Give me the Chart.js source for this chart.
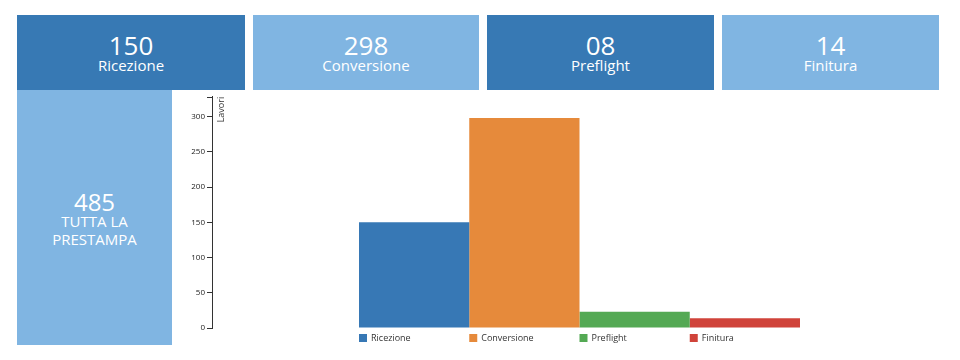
<!DOCTYPE html>
<html lang="it">
<head>
    <meta charset="UTF-8">
    <title>Prestampa</title>
    <script src="https://cdn.jsdelivr.net/npm/chart.js"></script>
    <style>
        body {
            margin: 0;
            width: 960px;
            height: 360px;
            background: #fff;
            font-family: 'Open Sans', sans-serif;
            position: relative;
            overflow: hidden;
        }
        .tile {
            position: absolute;
            color: white;
            text-align: center;
            box-sizing: border-box;
        }
        .tile.dark { background: #3779b4; }
        .tile.light { background: #80b5e2; }
        .tile .num {
            font-size: 26px;
            line-height: 26px;
            margin-top: 17px;
        }
        .tile .lbl {
            font-size: 15px;
            line-height: 18px;
            margin-top: -2px;
        }
        #total {
            left: 17px; top: 90px; width: 155px; height: 255px;
        }
        #total .num {
            font-size: 24px;
            line-height: 24px;
            margin-top: 100px;
        }
        #total .lbl {
            font-size: 15px;
            line-height: 18px;
            margin-top: -2px;
        }
        #chartBox {
            position: absolute;
            left: 172px;
            top: 90px;
            width: 788px;
            height: 270px;
        }
    </style>
</head>
<body>
    <div class="tile dark" style="left:17px;top:15px;width:228px;height:75px;">
        <div class="num">150</div><div class="lbl">Ricezione</div>
    </div>
    <div class="tile light" style="left:253px;top:15px;width:226px;height:75px;">
        <div class="num">298</div><div class="lbl">Conversione</div>
    </div>
    <div class="tile dark" style="left:487px;top:15px;width:227px;height:75px;">
        <div class="num">08</div><div class="lbl">Preflight</div>
    </div>
    <div class="tile light" style="left:722px;top:15px;width:217px;height:75px;">
        <div class="num">14</div><div class="lbl">Finitura</div>
    </div>
    <div class="tile light" id="total">
        <div class="num">485</div><div class="lbl">TUTTA LA<br>PRESTAMPA</div>
    </div>
    <div id="chartBox"><canvas id="barChart" width="788" height="270"></canvas></div>
    <script>
        const phases = ['Ricezione', 'Conversione', 'Preflight', 'Finitura'];
        const jobs = [150, 298, 23, 14];
        const colors = ['#3778b5', '#e68a3b', '#54a954', '#d0433a'];
        const yTicks = [0, 50, 100, 150, 200, 250, 300];
        const yMax = 328;
        const axisTitle = 'Lavori';

        // top cap of the axis, axis title and the legend under each bar
        const extras = {
            id: 'extras',
            afterDraw(chart) {
                const ctx = chart.ctx;
                const area = chart.chartArea;
                const y = chart.scales.y;
                ctx.save();
                ctx.strokeStyle = '#333';
                ctx.lineWidth = 1;
                ctx.beginPath();
                ctx.moveTo(area.left - 5, Math.round(y.top) + 0.5);
                ctx.lineTo(area.left + 0.5, Math.round(y.top) + 0.5);
                ctx.stroke();

                ctx.translate(area.left + 5, y.top);
                ctx.rotate(-Math.PI / 2);
                ctx.fillStyle = '#333';
                ctx.font = '9px "Open Sans", sans-serif';
                ctx.textAlign = 'right';
                ctx.textBaseline = 'top';
                ctx.fillText(axisTitle, 0, 0);
                ctx.restore();

                ctx.save();
                ctx.font = '9px "Open Sans", sans-serif';
                ctx.textBaseline = 'middle';
                chart.data.datasets.forEach((ds, i) => {
                    const bar = chart.getDatasetMeta(i).data[0];
                    const x0 = bar.x - bar.width / 2;
                    const ly = area.bottom + 6;
                    ctx.fillStyle = ds.backgroundColor;
                    ctx.fillRect(x0, ly, 8, 8);
                    ctx.fillStyle = '#333';
                    ctx.fillText(ds.label, x0 + 12, ly + 4);
                });
                ctx.restore();
            }
        };

        new Chart(document.getElementById('barChart'), {
            type: 'bar',
            data: {
                labels: [''],
                datasets: phases.map((p, i) => ({
                    label: p,
                    data: [jobs[i]],
                    backgroundColor: colors[i],
                    categoryPercentage: 0.6,
                    barPercentage: 1
                }))
            },
            options: {
                responsive: false,
                animation: false,
                layout: { padding: { top: 4, right: 13, bottom: 32, left: 0 } },
                plugins: {
                    legend: { display: false },
                    tooltip: { enabled: false }
                },
                scales: {
                    x: { display: false },
                    y: {
                        min: 0,
                        max: yMax,
                        afterFit(scale) { scale.width = 40; },
                        afterBuildTicks(scale) {
                            scale.ticks = yTicks.map(v => ({ value: v }));
                        },
                        ticks: {
                            color: '#222',
                            font: { size: 8, family: '"Open Sans", sans-serif' },
                            padding: 2
                        },
                        grid: {
                            drawOnChartArea: false,
                            tickLength: 5,
                            color: '#333'
                        },
                        border: { display: true, color: '#333' }
                    }
                }
            },
            plugins: [extras]
        });
    </script>
</body>
</html>
